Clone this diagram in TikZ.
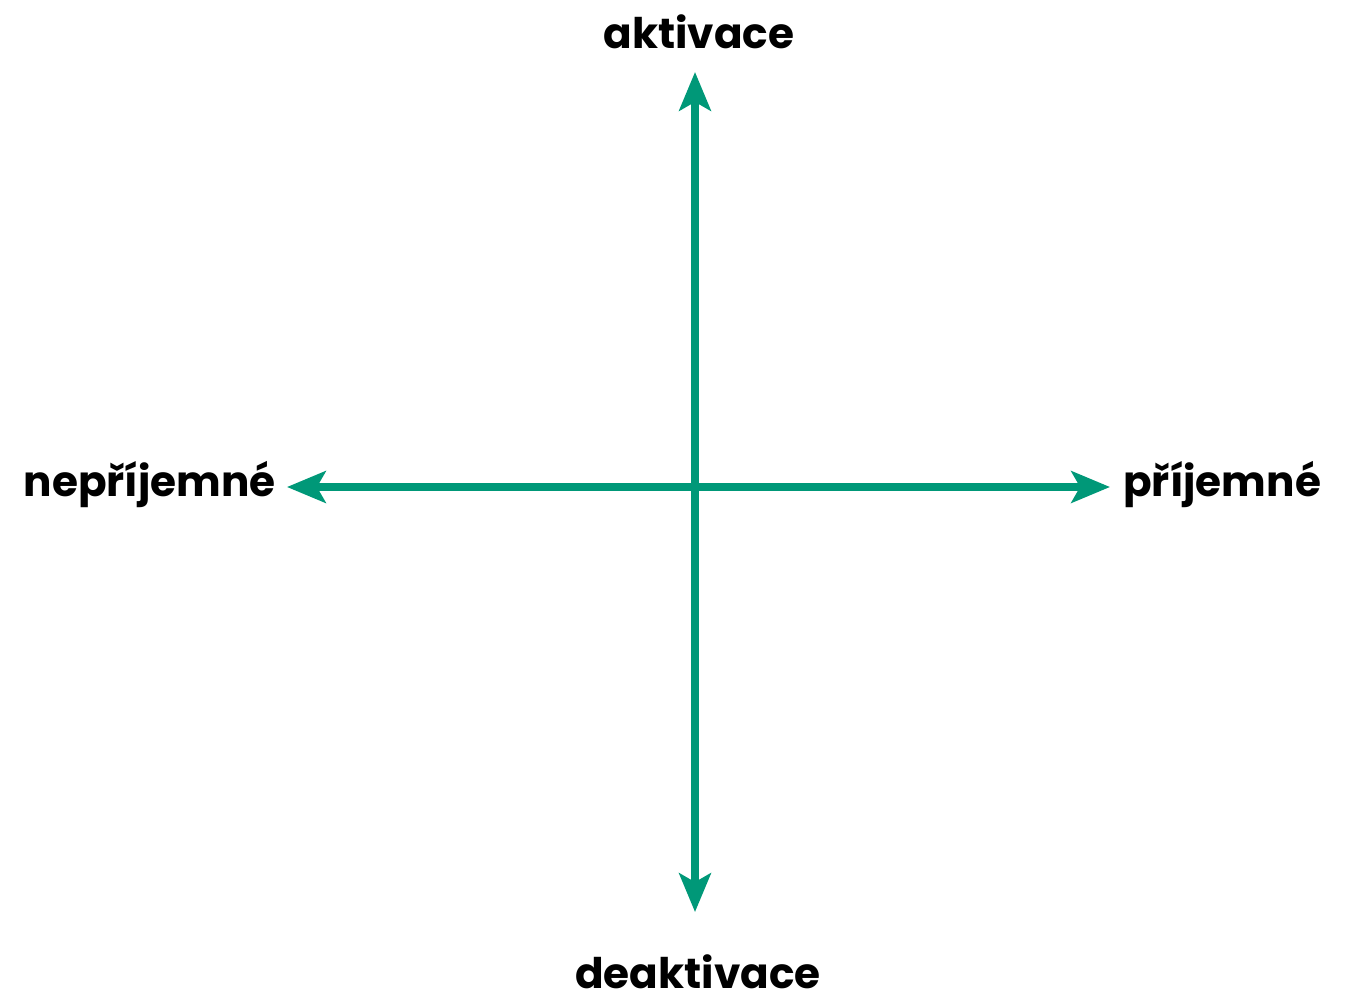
\documentclass[tikz,border=0pt]{standalone}
\usepackage{fontspec}
\setmainfont{Poppins}
\usetikzlibrary{arrows.meta}
\definecolor{axisgreen}{RGB}{0,152,120}
\tikzset{
  axisline/.style={line width=4pt, draw=axisgreen,
    {Stealth[length=22pt,width=18pt,inset=5pt]}-{Stealth[length=22pt,width=18pt,inset=5pt]}},
  pole/.style={font=\fontsize{24}{30}\selectfont\bfseries, inner sep=0pt}
}
\begin{document}
\begin{tikzpicture}[x=0.02cm,y=-0.02cm]
  \useasboundingbox (0,0) rectangle (1348,997);
  % Axis end points
  \coordinate (top) at (695,72);
  \coordinate (bottom) at (695,912);
  \coordinate (left) at (287,487);
  \coordinate (right) at (1110,487);
  % Axes
  \draw[axisline] (bottom) -- (top);
  \draw[axisline] (left) -- (right);
  % Pole labels
  \node[pole, anchor=base] (act) at (699,49) {aktivace};
  \node[pole, anchor=base] (deact) at (698,988) {deaktivace};
  \node[pole, anchor=base east] (unpl) at (276,496) {nepříjemné};
  \node[pole, anchor=base west] (pl) at (1123,496) {příjemné};
\end{tikzpicture}
\end{document}
